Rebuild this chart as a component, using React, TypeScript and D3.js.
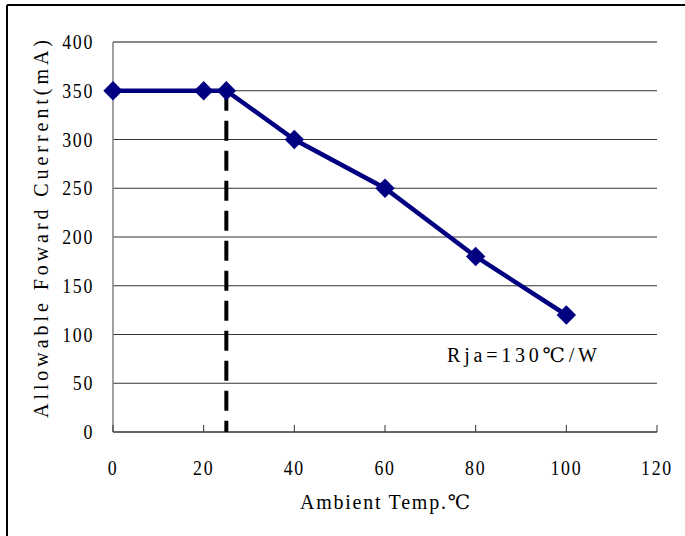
import React, { useEffect, useRef } from "react";
import * as d3 from "d3";

const temps = [0, 20, 25, 40, 60, 80, 100];
const currents = [350, 350, 350, 300, 250, 180, 120];
const xTicks = [0, 20, 40, 60, 80, 100, 120];
const yTicks = [0, 50, 100, 150, 200, 250, 300, 350, 400];
const derateTemp = 25;
const derateCurrent = 350;
const yLabel = "Allowable Foward Cuerrent(mA)";
const xLabel = "Ambient Temp.℃";
const note = "Rja=130℃/W";

const W = 685, H = 536;
const FONT = "'Liberation Serif', 'DejaVu Serif', serif";

export default function App() {
  const ref = useRef<SVGSVGElement>(null);
  useEffect(() => {
    const svg = d3.select(ref.current);
    svg.selectAll("*").remove();
    const x = d3.scaleLinear().domain([0, 120]).range([113, 657]);
    const y = d3.scaleLinear().domain([0, 400]).range([432, 42]);

    // outer frame
    svg.append("line").attr("x1", 7).attr("x2", W).attr("y1", 5).attr("y2", 5).attr("stroke", "#000").attr("stroke-width", 2);
    svg.append("line").attr("x1", 7).attr("x2", 7).attr("y1", 5).attr("y2", H).attr("stroke", "#000").attr("stroke-width", 2);

    // gridlines
    svg.append("g").selectAll("line").data(yTicks.filter(d => d > 0)).join("line")
      .attr("x1", x(0)).attr("x2", x(120)).attr("y1", d => y(d)).attr("y2", d => y(d))
      .attr("stroke", (d) => d === 400 ? "#111" : "#333").attr("stroke-width", 1);

    // y axis
    svg.append("line").attr("x1", x(0)).attr("x2", x(0)).attr("y1", y(400)).attr("y2", y(0)).attr("stroke", "#808080").attr("stroke-width", 1.5);
    // x axis
    svg.append("line").attr("x1", x(0)).attr("x2", x(120)).attr("y1", y(0)).attr("y2", y(0)).attr("stroke", "#333").attr("stroke-width", 1.5);
    svg.append("g").selectAll("line").data(xTicks).join("line")
      .attr("x1", d => x(d)).attr("x2", d => x(d)).attr("y1", y(0)).attr("y2", y(0) - 7)
      .attr("stroke", "#333").attr("stroke-width", 1);

    const narrow = (sel: any, cx: number, cy: number) =>
      sel.attr("transform", `translate(${cx},${cy}) scale(0.85,1)`);

    // tick labels
    svg.append("g").selectAll("text").data(yTicks).join("text")
      .each(function (this: SVGTextElement, d: number) {
        narrow(d3.select(this), 94, y(d) + 7);
      })
      .attr("text-anchor", "end").attr("font-family", FONT).attr("font-size", 21)
      .attr("letter-spacing", 2)
      .text(d => String(d));
    svg.append("g").selectAll("text").data(xTicks).join("text")
      .each(function (this: SVGTextElement, d: number) {
        narrow(d3.select(this), x(d), 475);
      })
      .attr("text-anchor", "middle").attr("font-family", FONT).attr("font-size", 21)
      .attr("letter-spacing", 2)
      .text(d => String(d));

    // dashed derating line
    svg.append("line").attr("x1", x(derateTemp)).attr("x2", x(derateTemp))
      .attr("y1", y(derateCurrent)).attr("y2", y(0))
      .attr("stroke", "#000").attr("stroke-width", 4).attr("stroke-dasharray", "20,10");

    // series line
    const pts = temps.map((t, i) => [t, currents[i]] as [number, number]);
    svg.append("path").datum(pts)
      .attr("d", d3.line<[number, number]>().x(d => x(d[0])).y(d => y(d[1])))
      .attr("fill", "none").attr("stroke", "#000080").attr("stroke-width", 4.5);
    svg.append("g").selectAll("path").data(pts).join("path")
      .attr("transform", d => `translate(${x(d[0])},${y(d[1])})`)
      .attr("d", d3.symbol(d3.symbolDiamond2, 240)())
      .attr("fill", "#000080");

    // labels
    svg.append("text").attr("transform", `translate(48,229) rotate(-90)`)
      .attr("text-anchor", "middle").attr("font-family", FONT).attr("font-size", 20)
      .attr("textLength", 378).attr("lengthAdjust", "spacing")
      .text(yLabel);
    svg.append("text").attr("x", 385).attr("y", 509)
      .attr("text-anchor", "middle").attr("font-family", FONT).attr("font-size", 20)
      .attr("textLength", 170).attr("lengthAdjust", "spacing")
      .text(xLabel);
    svg.append("text").attr("x", 522).attr("y", 362)
      .attr("text-anchor", "middle").attr("font-family", FONT).attr("font-size", 20)
      .attr("textLength", 150).attr("lengthAdjust", "spacing")
      .text(note);
  }, []);
  return (
    <div style={{ position: "absolute", left: 0, top: 0 }}>
      <svg ref={ref} width={W} height={H} style={{ display: "block", background: "#fff" }} />
    </div>
  );
}
